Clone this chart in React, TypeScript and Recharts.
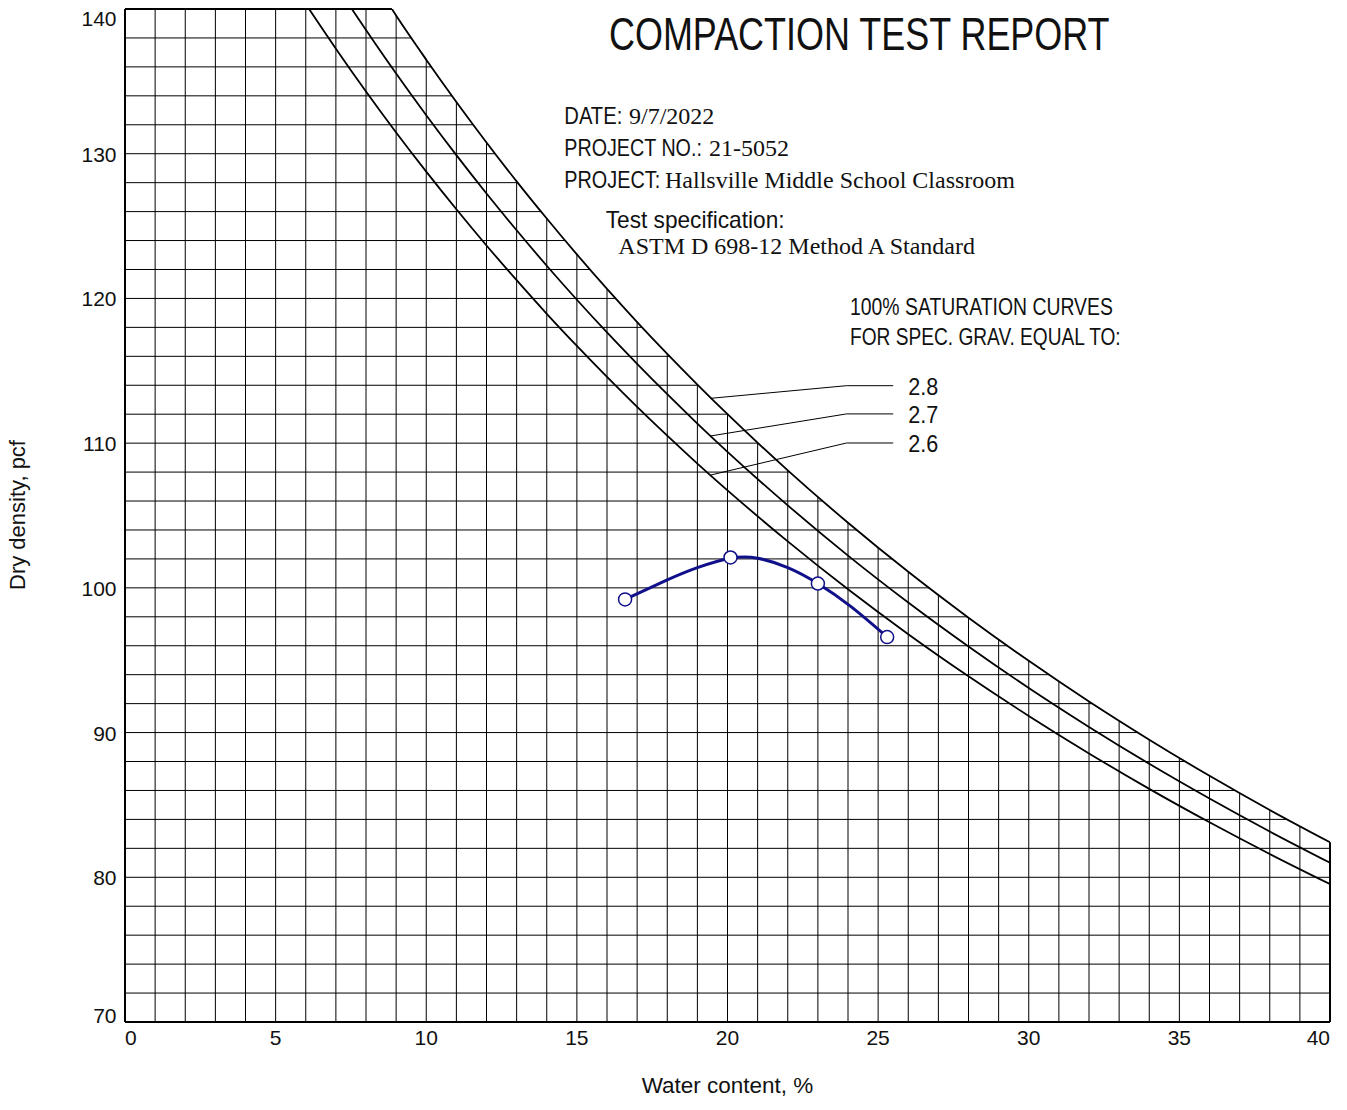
import React from 'react';
import {
  ComposedChart,
  Line,
  Area,
  XAxis,
  YAxis,
  CartesianGrid,
  ReferenceLine,
} from 'recharts';

// 100% saturation curves (water content %, dry density pcf)
const gs28Water = [8.86, 9, 10, 11, 12, 13, 14, 15, 16, 17, 18, 19, 20, 22, 24, 26, 28, 30, 32, 34, 36, 38, 40];
const gs28Density = [140, 139.55, 136.5, 133.58, 130.78, 128.09, 125.52, 123.04, 120.66, 118.37, 116.17, 114.05, 112.0, 108.12, 104.5, 101.11, 97.94, 94.96, 92.15, 89.51, 87.01, 84.65, 82.42];

const gs27Water = [7.53, 8, 9, 10, 11, 12, 13, 14, 15, 16, 17, 18, 19, 20, 22, 24, 26, 28, 30, 32, 34, 36, 38, 40];
const gs27Density = [140, 138.55, 135.54, 132.66, 129.9, 127.25, 124.71, 122.26, 119.91, 117.65, 115.48, 113.38, 111.35, 109.4, 105.7, 102.23, 98.99, 95.95, 93.08, 90.39, 87.84, 85.44, 83.16, 81.0];

const gs26Water = [6.11, 7, 8, 9, 10, 11, 12, 13, 14, 15, 16, 17, 18, 19, 20, 22, 24, 26, 28, 30, 32, 34, 36, 38, 40];
const gs26Density = [140, 137.26, 134.3, 131.47, 128.76, 126.16, 123.66, 121.26, 118.94, 116.72, 114.58, 112.51, 110.52, 108.59, 106.74, 103.21, 99.9, 96.8, 93.89, 91.15, 88.56, 86.11, 83.8, 81.61, 79.53];

// test points
const testWater = [16.6, 20.1, 23.0, 25.3];
const testDensity = [99.2, 102.1, 100.3, 96.6];

// fitted compaction curve traced through the points
const fitWater = [16.6, 18.0, 19.0, 20.1, 21.0, 22.0, 23.0, 24.1, 25.3];
const fitDensity = [99.2, 100.55, 101.4, 102.05, 102.05, 101.4, 100.3, 98.7, 96.6];

// leader lines from the specific gravity labels to the curves
const gravityLabels = ['2.8', '2.7', '2.6'];
const leaderLabelY = [113.97, 112.02, 110.01];
const leaderCurveY = [113.1, 110.5, 107.8];
const leaderCurveX = 19.45;
const leaderKneeX = 23.95;
const leaderEndX = 25.5;

const xTicks = [0, 5, 10, 15, 20, 25, 30, 35, 40];
const yTicks = [70, 80, 90, 100, 110, 120, 130, 140];
const gridX = Array.from({ length: 39 }, (_, i) => i + 1);
const gridY = Array.from({ length: 34 }, (_, i) => 72 + i * 2);

const toPoints = (w: number[], d: number[]) => w.map((x, i) => ({ w: x, d: d[i] }));

const gs28 = toPoints(gs28Water, gs28Density);
const gs27 = toPoints(gs27Water, gs27Density);
const gs26 = toPoints(gs26Water, gs26Density);
const tests = toPoints(testWater, testDensity);
const fit = toPoints(fitWater, fitDensity);

const SANS = '"Liberation Sans", Arial, sans-serif';
const SERIF = '"Liberation Serif", "Times New Roman", serif';
const INK = '#111';
const BLUE = '#10108a';

const measureCtx =
  typeof document !== 'undefined' ? document.createElement('canvas').getContext('2d') : null;

function textWidth(text: string, size: number) {
  if (!measureCtx) return text.length * size * 0.55;
  measureCtx.font = `${size}px ${SANS}`;
  return measureCtx.measureText(text).width;
}

function XTick(props: any) {
  const { x, y, payload } = props;
  const v = payload.value;
  const anchor = v === 0 ? 'start' : v === 40 ? 'end' : 'middle';
  return (
    <text x={x} y={y + 23} textAnchor={anchor} fontFamily={SANS} fontSize={21} fill={INK}>
      {v}
    </text>
  );
}

function YTick(props: any) {
  const { x, y, payload } = props;
  const v = payload.value;
  const dy = v === 140 ? 17.4 : v === 70 ? 0.6 : 8;
  return (
    <text x={x - 8.5} y={y + dy} textAnchor="end" fontFamily={SANS} fontSize={21} fill={INK}>
      {v}
    </text>
  );
}

// narrow sans text: regular sans squeezed horizontally to the measured width
function Narrow({ x, y, w, size = 24, children }: any) {
  const sx = w / textWidth(children, size);
  return (
    <text transform={`translate(${x} ${y}) scale(${sx} 1)`} fontFamily={SANS} fontSize={size}>
      {children}
    </text>
  );
}

export default function App() {
  return (
    <div style={{ position: 'absolute', left: 0, top: 0, width: 1347, height: 1110, background: '#fff' }}>
      <ComposedChart
        width={1347}
        height={1110}
        margin={{ top: 9, right: 17, bottom: 58, left: 0 }}
      >
        <CartesianGrid stroke="#000" strokeWidth={1} horizontalValues={gridY} verticalValues={gridX} />
        <XAxis
          type="number"
          dataKey="w"
          domain={[0, 40]}
          ticks={xTicks}
          interval={0}
          allowDataOverflow
          height={30}
          tickSize={0}
          tickMargin={0}
          tickLine={false}
          axisLine={{ stroke: '#000', strokeWidth: 2 }}
          tick={<XTick />}
        />
        <YAxis
          type="number"
          dataKey="d"
          domain={[70, 140]}
          ticks={yTicks}
          interval={0}
          allowDataOverflow
          width={125}
          tickSize={0}
          tickMargin={0}
          tickLine={false}
          axisLine={{ stroke: '#000', strokeWidth: 2 }}
          tick={<YTick />}
        />
        {/* blank out the grid above the 2.8 saturation curve */}
        <Area
          data={gs28}
          dataKey="d"
          type="monotone"
          baseValue={140}
          fill="#fff"
          fillOpacity={1}
          stroke="none"
          isAnimationActive={false}
        />
        <ReferenceLine segment={[{ x: 0, y: 140 }, { x: 8.86, y: 140 }]} stroke="#000" strokeWidth={2} ifOverflow="visible" />
        <ReferenceLine segment={[{ x: 40, y: 70 }, { x: 40, y: 82.42 }]} stroke="#000" strokeWidth={2} ifOverflow="visible" />
        {gravityLabels.map((g, i) => (
          <ReferenceLine
            key={'h' + g}
            segment={[{ x: leaderKneeX, y: leaderLabelY[i] }, { x: leaderEndX, y: leaderLabelY[i] }]}
            stroke="#000"
            strokeWidth={1}
            ifOverflow="visible"
          />
        ))}
        {gravityLabels.map((g, i) => (
          <ReferenceLine
            key={'d' + g}
            segment={[{ x: leaderCurveX, y: leaderCurveY[i] }, { x: leaderKneeX, y: leaderLabelY[i] }]}
            stroke="#000"
            strokeWidth={1}
            ifOverflow="visible"
          />
        ))}
        <Line data={gs28} dataKey="d" type="monotone" stroke="#000" strokeWidth={1.8} dot={false} isAnimationActive={false} />
        <Line data={gs27} dataKey="d" type="monotone" stroke="#000" strokeWidth={1.8} dot={false} isAnimationActive={false} />
        <Line data={gs26} dataKey="d" type="monotone" stroke="#000" strokeWidth={1.8} dot={false} isAnimationActive={false} />
        <Line data={fit} dataKey="d" type="natural" stroke={BLUE} strokeWidth={3} dot={false} isAnimationActive={false} />
        <Line
          data={tests}
          dataKey="d"
          stroke="none"
          dot={{ r: 6.5, fill: '#fff', stroke: BLUE, strokeWidth: 1.5 }}
          isAnimationActive={false}
        />
      </ComposedChart>

      <svg
        width={1347}
        height={1110}
        style={{ position: 'absolute', left: 0, top: 0, pointerEvents: 'none' }}
      >
        <g fill={INK}>
          <Narrow x={609} y={50} w={502} size={47}>COMPACTION TEST REPORT</Narrow>

          <Narrow x={564.3} y={124.3} w={58}>DATE:</Narrow>
          <text x={629} y={124.3} fontFamily={SERIF} fontSize={24}>9/7/2022</text>

          <Narrow x={564.3} y={156} w={138}>PROJECT NO.:</Narrow>
          <text x={709} y={156} fontFamily={SERIF} fontSize={24}>21-5052</text>

          <Narrow x={564.3} y={188} w={96}>PROJECT:</Narrow>
          <text x={665} y={188} fontFamily={SERIF} fontSize={24}>Hallsville Middle School Classroom</text>

          <Narrow x={605.7} y={228} w={179}>Test specification:</Narrow>
          <text x={618.3} y={253.5} fontFamily={SERIF} fontSize={24}>ASTM D 698-12 Method A Standard</text>

          <Narrow x={850} y={315} w={263}>100% SATURATION CURVES</Narrow>
          <Narrow x={850} y={345} w={272}>FOR SPEC. GRAV. EQUAL TO:</Narrow>

          <Narrow x={908.3} y={395} w={30}>2.8</Narrow>
          <Narrow x={908.3} y={423.3} w={30}>2.7</Narrow>
          <Narrow x={908.3} y={451.7} w={30}>2.6</Narrow>

          <Narrow x={641.7} y={1093} w={171.6} size={22}>Water content, %</Narrow>
          <text
            x={0}
            y={0}
            transform="translate(25 515) rotate(-90)"
            textAnchor="middle"
            fontFamily={SANS}
            fontSize={22}
          >
            Dry density, pcf
          </text>
        </g>
      </svg>
    </div>
  );
}
